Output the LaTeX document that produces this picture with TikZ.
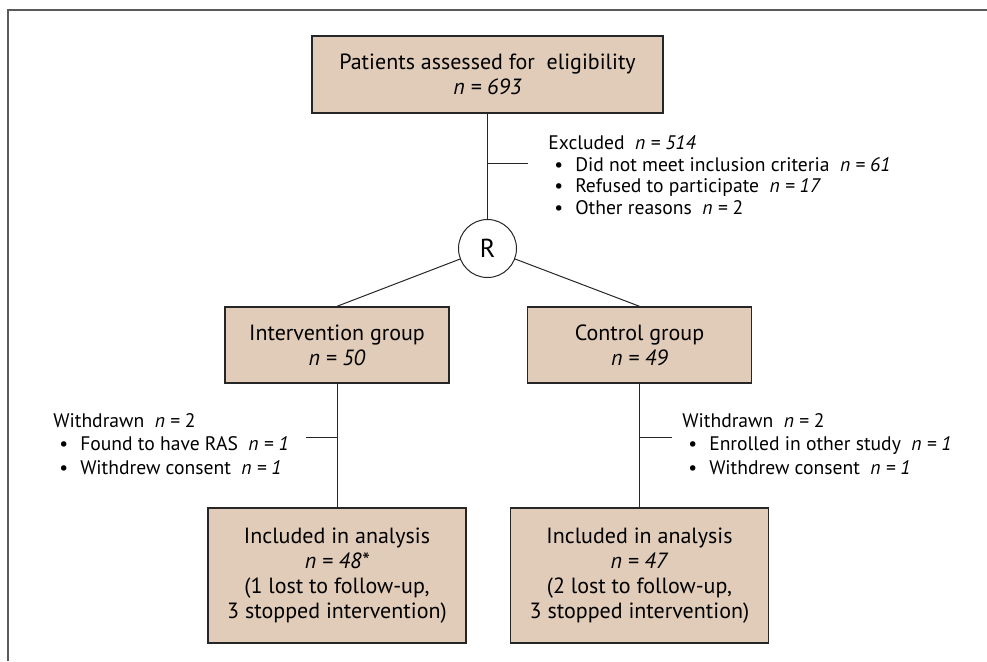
\documentclass[tikz,border=0pt]{standalone}
\usepackage{fontspec}
\setmainfont{PT Sans}
\usetikzlibrary{positioning}
\definecolor{boxtan}{RGB}{224,204,184}
\definecolor{framegray}{RGB}{90,90,90}
\newcommand{\bul}{\hspace*{3pt}\textbullet\hspace{6pt}}

\begin{document}
\begin{tikzpicture}[x=0.5pt, y=-0.5pt,
    box/.style={draw=black!85, line width=0.7pt, fill=boxtan, align=center,
      inner sep=0pt, font=\fontsize{11}{12.5}\selectfont},
    note/.style={align=left, anchor=base west, inner sep=0pt,
      font=\fontsize{9.8}{11.7}\selectfont},
    link/.style={black!85, line width=0.5pt}]
  \useasboundingbox (0,0) rectangle (987,661);
  \draw[framegray, line width=1pt] (8,661) -- (8,10) -- (987,10);

  \node[box, minimum width=175.5pt, minimum height=38.5pt] (elig) at (487.5,74.5)
    {Patients assessed for\ \ eligibility\\ \textit{n = 693}};
  \node[draw=black!85, line width=0.5pt, circle, minimum size=29pt, inner sep=0pt,
    font=\fontsize{13}{15}\selectfont] (rand) at (487.5,248.5) {R};
  \node[box, minimum width=112pt, minimum height=38pt] (inter) at (337,345)
    {Intervention group\\ \textit{n = 50}};
  \node[box, minimum width=112pt, minimum height=38pt] (contr) at (639.5,345)
    {Control group\\ \textit{n = 49}};
  \node[box, minimum width=129pt, minimum height=67.5pt] (inana) at (337,575.5)
    {Included in analysis\\ \textit{n = 48*}\\ (1 lost to follow-up,\\ 3 stopped intervention)};
  \node[box, minimum width=129pt, minimum height=67.5pt] (coana) at (639.5,575.5)
    {Included in analysis\\ \textit{n = 47}\\ (2 lost to follow-up,\\ 3 stopped intervention)};

  \node[note, font=\fontsize{9.8}{10.7}\selectfont] (excl) at (548,214) {Excluded\ \ \textit{n = 514}\\
    \bul Did not meet inclusion criteria\ \ \textit{n = 61}\\
    \bul Refused to participate\ \ \textit{n = 17}\\
    \bul Other reasons\ \ \textit{n =} 2};
  \node[note] (wdl) at (53,474) {Withdrawn\ \ \textit{n =} 2\\
    \bul Found to have RAS\ \ \textit{n = 1}\\
    \bul Withdrew consent\ \ \textit{n = 1}};
  \node[note] (wdr) at (682,474) {Withdrawn\ \ \textit{n =} 2\\
    \bul Enrolled in other study\ \ \textit{n = 1}\\
    \bul Withdrew consent\ \ \textit{n = 1}};

  \coordinate (exend) at (528,163);
  \coordinate (wlend) at (306,437);
  \coordinate (wrend) at (672,437);
  \draw[link] (elig) -- (rand);
  \draw[link] (elig.south |- exend) -- (exend);
  \draw[link] (rand) -- (inter.north);
  \draw[link] (rand) -- (contr.north);
  \draw[link] (inter) -- (inana);
  \draw[link] (contr) -- (coana);
  \draw[link] (inter.south |- wlend) -- (wlend);
  \draw[link] (contr.south |- wrend) -- (wrend);
\end{tikzpicture}
\end{document}
